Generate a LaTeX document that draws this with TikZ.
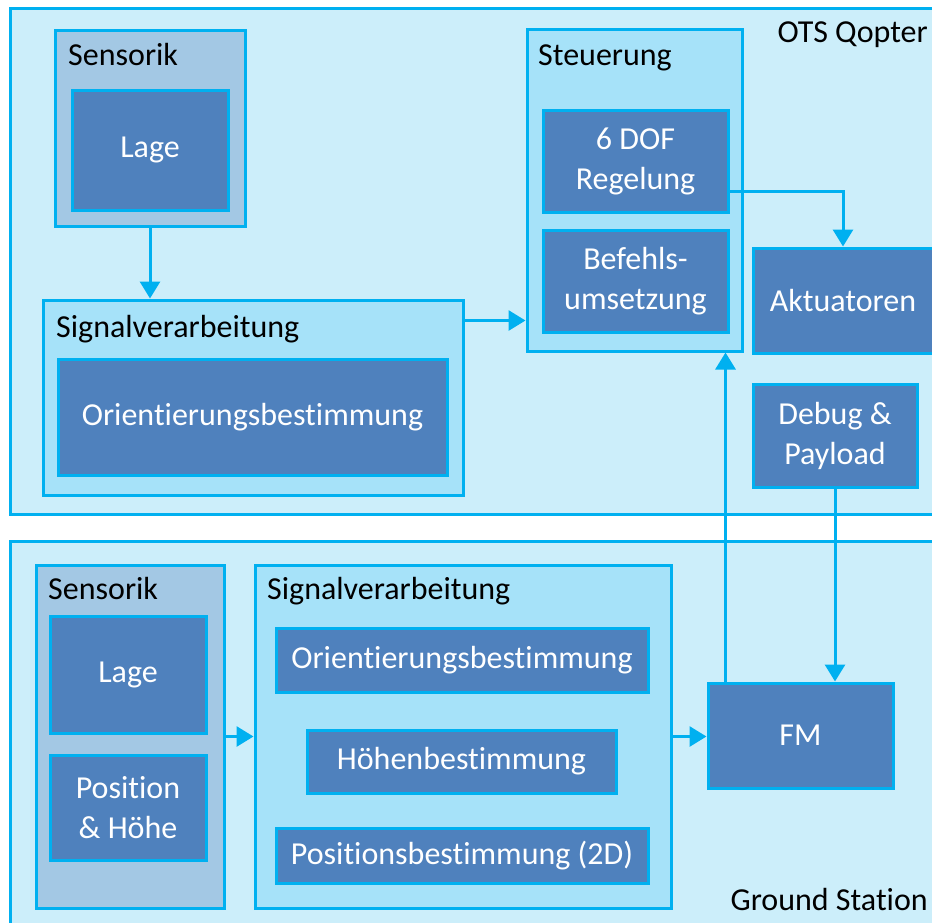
\documentclass[tikz,border=0pt]{standalone}
\usepackage{fontspec}
\setmainfont{Carlito}[Ligatures=NoCommon]
\usepackage{xcolor}
\usepackage{tikz}
\usetikzlibrary{arrows.meta}

\definecolor{linecyan}{HTML}{00B0F0}
\definecolor{framefill}{HTML}{CCEEFA}
\definecolor{groupfill}{HTML}{A6E2F9}
\definecolor{sensfill}{HTML}{A3C8E4}
\definecolor{compfill}{HTML}{4F81BD}

\begin{document}
\begin{tikzpicture}[x=1pt, y=-1pt,
        font=\fontsize{32}{40}\selectfont,
        frame/.style={draw=linecyan, fill=framefill, line width=3pt, inner sep=0pt},
        group/.style={draw=linecyan, fill=groupfill, line width=3pt, inner sep=0pt},
        sensgroup/.style={group, fill=sensfill},
        comp/.style={draw=linecyan, fill=compfill, line width=3pt, text=white,
                     align=center, inner sep=0pt},
        title/.style={inner sep=0pt},
        flow/.style={draw=linecyan, line width=3pt, -{Triangle[width=20pt,length=17pt]}}
    ]
        \useasboundingbox (0,0) rectangle (932,922);
        \clip (0,0) rectangle (932,922);
        \fill[white] (0,0) rectangle (932,922);

        % OTS Qopter
        \node[frame, minimum width=935pt, minimum height=506pt] (ots) at (477.5,261) {};
        \node[title, anchor=base east] (otstitle) at (928,42) {OTS Qopter};

        \node[sensgroup, minimum width=190pt, minimum height=196pt] (sens1) at (150,128) {};
        \node[title, anchor=base west] (sens1title) at (68,65) {Sensorik};
        \node[comp, minimum width=156pt, minimum height=120pt] (lage1) at (150,150) {Lage};

        \node[group, minimum width=420pt, minimum height=195pt] (sv1) at (253,397.5) {};
        \node[title, anchor=base west] (sv1title) at (56,337) {Signalverarbeitung};
        \node[comp, minimum width=389pt, minimum height=116pt] (orient1) at (252.5,417) {Orientierungsbestimmung};

        \node[group, minimum width=215pt, minimum height=322pt] (steu) at (634.5,190) {};
        \node[title, anchor=base west] (steutitle) at (538,65) {Steuerung};
        \node[comp, minimum width=185pt, minimum height=102pt] (dof) at (635.5,161) {6 DOF\\Regelung};
        \node[comp, minimum width=185pt, minimum height=102pt] (befehl) at (635.5,281) {Befehls-\\umsetzung};

        \node[comp, minimum width=180pt, minimum height=105pt] (akt) at (843,300.5) {Aktuatoren};
        \node[comp, minimum width=164pt, minimum height=103pt] (debug) at (835,435.5) {Debug \&\\Payload};

        % Ground Station
        \node[frame, minimum width=935pt, minimum height=399pt] (gs) at (477.5,740.5) {};
        \node[title, anchor=base east] (gstitle) at (928,910) {Ground Station};

        \node[sensgroup, minimum width=188pt, minimum height=343pt] (sens2) at (130,736.5) {};
        \node[title, anchor=base west] (sens2title) at (48,599) {Sensorik};
        \node[comp, minimum width=156pt, minimum height=117pt] (lage2) at (128,674.5) {Lage};
        \node[comp, minimum width=156pt, minimum height=105pt] (pos2) at (128,807.5) {Position\\\& Höhe};

        \node[group, minimum width=416pt, minimum height=343pt] (sv2) at (463,736.5) {};
        \node[title, anchor=base west] (sv2title) at (267,599) {Signalverarbeitung};
        \node[comp, minimum width=372pt, minimum height=64pt] (orient2) at (462,660) {Orientierungsbestimmung};
        \node[comp, minimum width=309pt, minimum height=63pt] (hoehe) at (461.5,761.5) {Höhenbestimmung};
        \node[comp, minimum width=372pt, minimum height=55pt] (posb) at (462,855.5) {Positionsbestimmung (2D)};

        \node[comp, minimum width=185pt, minimum height=105pt] (fm) at (800.5,735.5) {FM};

        \coordinate (svout) at ([yshift=-22pt]sv1.north east);
        \coordinate (dofout) at ([yshift=22pt]dof.south east);
        \coordinate (fmout) at ([xshift=19pt]fm.north west);

        \draw[flow] (sens1.south) -- (sens1.south |- sv1.north);
        \draw[flow] (svout) -- (svout -| steu.west);
        \draw[flow] (dofout) -| (akt.north);
        \draw[flow] (debug.south) -- (debug.south |- fm.north);
        \draw[flow] (fmout) -- (fmout |- steu.south);
        \draw[flow] (sens2.east) -- (sens2.east -| sv2.west);
        \draw[flow] (sv2.east) -- (sv2.east -| fm.west);
    \end{tikzpicture}
\end{document}
